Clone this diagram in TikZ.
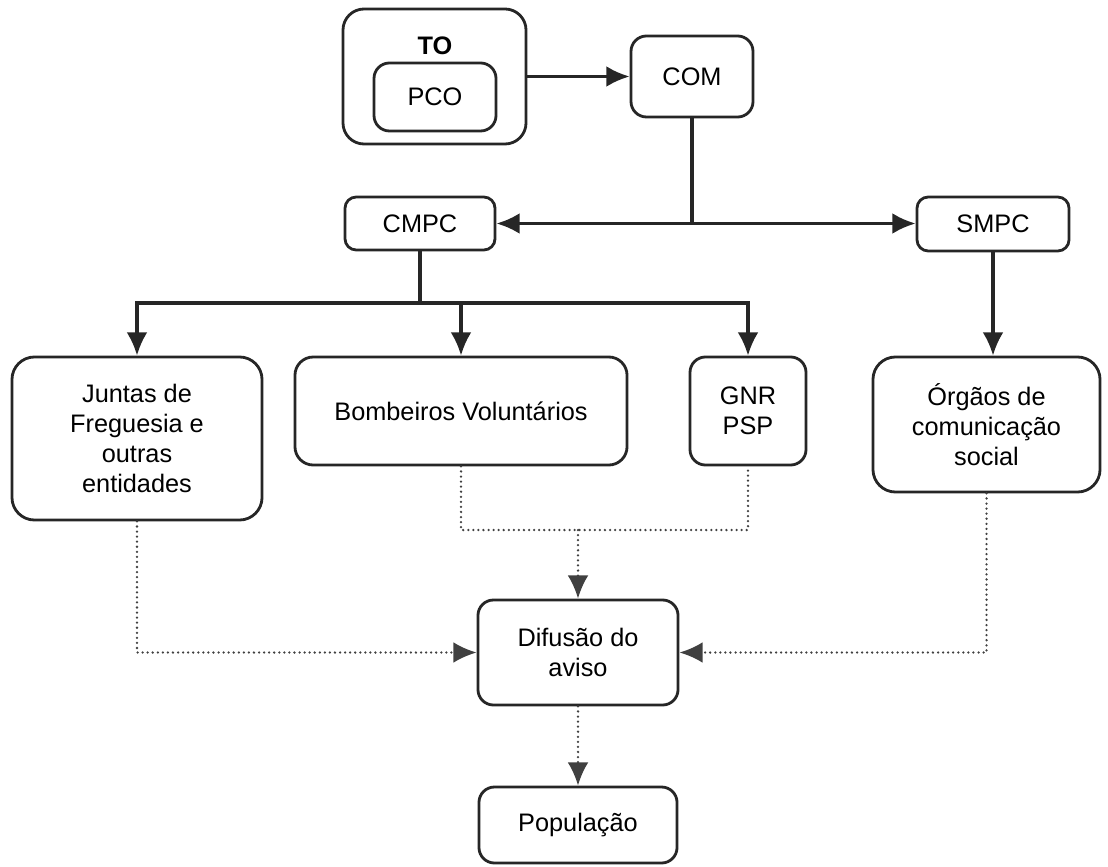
\documentclass[tikz,border=0pt]{standalone}
\usepackage{fontspec}
\setmainfont{Liberation Sans}
\usetikzlibrary{arrows.meta}

\begin{document}
\begin{tikzpicture}[x=0.025cm,y=-0.025cm,
  caixa/.style={draw=black!85,line width=2pt,rounded corners=8pt,align=center,inner sep=0pt,font=\fontsize{18}{21.3}\selectfont},
  linha/.style={draw=black!85,line width=2.2pt},
  seta/.style={linha,-{Latex[length=5.8mm,width=5.2mm]}},
  ponto/.style={draw=black!75,line width=1.8pt,line cap=round,dash pattern=on 0pt off 3.6pt},
  pseta/.style={ponto,-{Latex[length=5.8mm,width=5.2mm]}}]
\useasboundingbox (0,0) rectangle (1108,866);
\node[caixa,rounded corners=15pt,minimum width=4.575cm,minimum height=3.375cm] (to) at (434.5,76.5) {};
\node[font=\fontsize{18}{21.3}\selectfont\bfseries] (tolbl) at (435,46) {TO};
\node[caixa,rounded corners=11pt,minimum width=3.05cm,minimum height=1.7cm] (pco) at (435,97) {PCO};
\node[caixa,rounded corners=11pt,minimum width=3.05cm,minimum height=2.025cm] (com) at (692,76.5) {COM};
\node[caixa,minimum width=3.75cm,minimum height=1.325cm] (cmpc) at (420,223.5) {CMPC};
\node[caixa,minimum width=3.8cm,minimum height=1.35cm] (smpc) at (993,224) {SMPC};
\node[caixa,rounded corners=16pt,minimum width=6.25cm,minimum height=4.075cm] (juntas) at (137,438.5) {Juntas de\\Freguesia e\\outras\\entidades};
\node[caixa,rounded corners=13pt,minimum width=8.3cm,minimum height=2.7cm] (bomb) at (461,411) {Bombeiros Voluntários};
\node[caixa,rounded corners=11pt,minimum width=2.9cm,minimum height=2.7cm] (gnr) at (748,411) {GNR\\PSP};
\node[caixa,rounded corners=16pt,minimum width=5.675cm,minimum height=3.375cm] (orgaos) at (986.5,424.5) {Órgãos de\\comunicação\\social};
\node[caixa,rounded corners=11pt,minimum width=5cm,minimum height=2.625cm] (difusao) at (578,652.5) {Difusão do\\aviso};
\node[caixa,rounded corners=11pt,minimum width=4.95cm,minimum height=1.9cm] (pop) at (578,825) {População};

\draw[seta] (to) -- (com);
\coordinate (ramo) at (com.south |- cmpc.east);
\draw[linha] (com.south) -- (ramo);
\draw[seta] (ramo) -- (cmpc.east);
\draw[seta] (ramo) -- (ramo -| smpc.west);
\coordinate (barra) at (cmpc.south |- 0,303);
\draw[linha] (cmpc.south) -- (barra);
\draw[seta] (barra) -| (juntas.north);
\draw[seta] (barra) -| (bomb.north);
\draw[seta] (barra) -| (gnr.north);
\draw[seta] (smpc.south) -- (smpc.south |- orgaos.north);

%\draw[ponto] (bomb.south) -- (gnr.south);
\draw[ponto] (bomb.south) |- (difusao.north |- 0,530) -| (gnr.south);
\coordinate (uniao) at (difusao.north |- 0,530);
\draw[pseta] (uniao) -- (difusao.north);
\draw[pseta] (juntas.south) |- (difusao.west);
\draw[pseta] (orgaos.south) |- (difusao.east);
\draw[pseta] (difusao) -- (pop);
\end{tikzpicture}
\end{document}
